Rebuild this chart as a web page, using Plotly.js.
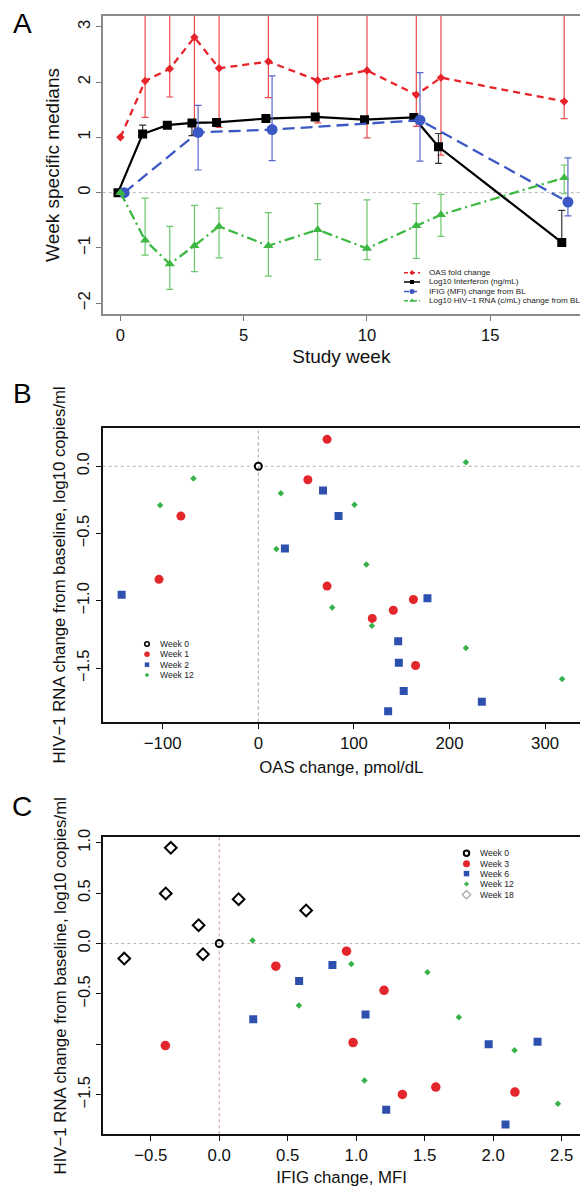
<!DOCTYPE html>
<html><head><meta charset="utf-8">
<script src="https://cdn.plot.ly/plotly-3.0.1.min.js"></script>
<style>html,body{margin:0;padding:0;background:#fff}#chart{width:580px;height:1187px}</style>
</head><body><div id="chart"></div>
<script>
// ---------- Panel A: week specific medians ----------
const weeks      = [0, 1, 2, 3, 4, 6, 8, 10, 12, 13, 18];
const oasMedian  = [1.00, 2.02, 2.24, 2.81, 2.25, 2.37, 2.03, 2.21, 1.77, 2.08, 1.65];
const oasLower   = [1.00, 1.36, 1.73, 1.05, 1.18, 1.72, 1.26, 0.99, 1.20, 0.68, 1.34];
const oasUpper   = [1.00, 3.60, 3.60, 3.60, 3.60, 3.60, 3.60, 3.60, 3.60, 3.60, 3.60];
const ifnMedian  = [0.00, 1.06, 1.22, 1.26, 1.27, 1.34, 1.37, 1.32, 1.36, 0.83, -0.90];
const ifnLower   = [0.00, 1.00, 1.18, 1.03, 1.23, 1.30, 1.33, 1.28, 1.32, 0.53, -0.93];
const ifnUpper   = [0.00, 1.22, 1.27, 1.30, 1.31, 1.38, 1.41, 1.36, 1.40, 1.07, -0.32];
const ifigWeeks  = [0, 3, 6, 12, 18];
const ifigMedian = [0.00, 1.09, 1.14, 1.31, -0.17];
const ifigLower  = [0.00, 0.41, 0.58, 0.57, -0.42];
const ifigUpper  = [0.00, 1.58, 2.11, 2.17, 0.63];
const hivMedian  = [0.00, -0.86, -1.29, -0.96, -0.61, -0.96, -0.67, -1.01, -0.60, -0.40, 0.27];
const hivLower   = [0.00, -1.13, -1.75, -1.43, -1.18, -1.51, -1.21, -1.21, -1.19, -0.79, -0.02];
const hivUpper   = [0.00, -0.10, -0.61, -0.23, -0.28, -0.36, -0.20, -0.13, -0.20, -0.03, 0.50];
const legendA    = ['OAS fold change', 'Log10 Interferon (ng/mL)', 'IFIG (MFI) change from BL', 'Log10 HIV\u22121 RNA (c/mL) change from BL'];

// ---------- Panel B: HIV-1 RNA change vs OAS change ----------
const bWeek0X  = [0];
const bWeek0Y  = [0];
const bWeek1X  = [71.9, 51.8, -81.0, -103.9, 71.9, 162.2, 141.2, 119.2, 164.5];
const bWeek1Y  = [0.20, -0.10, -0.37, -0.84, -0.89, -0.99, -1.07, -1.13, -1.48];
const bWeek2X  = [-143.0, 67.7, 83.9, 27.8, 176.9, 146.3, 147.0, 152.1, 135.8, 233.8];
const bWeek2Y  = [-0.955, -0.18, -0.37, -0.61, -0.98, -1.30, -1.46, -1.67, -1.82, -1.75];
const bWeek12X = [-67.9, -102.7, 23.5, 100.6, 18.9, 113.0, 77.3, 118.8, 217.1, 217.1, 317.8];
const bWeek12Y = [-0.09, -0.29, -0.20, -0.285, -0.615, -0.73, -1.05, -1.185, 0.03, -1.35, -1.58];
const legendB  = ['Week 0', 'Week 1', 'Week 2', 'Week 12'];

// ---------- Panel C: HIV-1 RNA change vs IFIG change ----------
const cWeek0X  = [0];
const cWeek0Y  = [0];
const cWeek3X  = [-0.394, 0.413, 0.929, 1.203, 0.977, 1.337, 1.581, 2.159];
const cWeek3Y  = [-1.013, -0.225, -0.076, -0.464, -0.983, -1.497, -1.424, -1.474];
const cWeek6X  = [0.248, 0.583, 0.826, 1.068, 1.219, 1.967, 2.324, 2.090];
const cWeek6Y  = [-0.752, -0.371, -0.212, -0.705, -1.649, -1.000, -0.974, -1.795];
const cWeek12X = [0.243, 0.964, 0.581, 1.520, 1.749, 2.156, 1.060, 2.473];
const cWeek12Y = [0.030, -0.202, -0.616, -0.285, -0.732, -1.060, -1.358, -1.589];
const cWeek18X = [-0.354, -0.391, -0.151, 0.141, 0.634, -0.119, -0.694];
const cWeek18Y = [0.950, 0.497, 0.182, 0.440, 0.328, -0.106, -0.149];
const legendC  = ['Week 0', 'Week 3', 'Week 6', 'Week 12', 'Week 18'];
const cYTickVals = [-1.5, -1.0, -0.5, 0.0, 0.5, 1.0];
const cYTickText = ['\u22121.5', '', '\u22120.5', '0.0', '0.5', '1.0'];

// ---------- helpers ----------
const W = 580, H = 1187;
const FONT = 'Liberation Sans, Arial, sans-serif';
const px = x => x / W, py = y => 1 - y / H;
const diff = (a, b) => a.map((v, i) => v - b[i]);
const shift = (a, d) => a.map(v => v + d);

const RED = '#e8232a', BLUE = '#3b58c4', GREEN = '#3db843';
const SRED = '#e3262b', SBLUE = '#2d4fae', SGREEN = '#37b24a';

function errY(med, lo, hi, color) {
  return {type: 'data', symmetric: false, array: diff(hi, med), arrayminus: diff(med, lo),
          color: color, thickness: 1.2, width: 3.5};
}

const traces = [];
// Panel A
traces.push({x: weeks, y: oasMedian, xaxis: 'x', yaxis: 'y', mode: 'lines+markers', name: legendA[0],
  line: {color: RED, width: 2.3, dash: '7px,5px'}, marker: {symbol: 'diamond', size: 6.5, color: RED},
  error_y: errY(oasMedian, oasLower, oasUpper, '#ea4b4b'), hoverinfo: 'x+y'});
traces.push({x: shift(weeks, -0.1), y: ifnMedian, xaxis: 'x', yaxis: 'y', mode: 'lines+markers', name: legendA[1],
  line: {color: '#000', width: 2.2}, marker: {symbol: 'square', size: 9, color: '#000'},
  error_y: errY(ifnMedian, ifnLower, ifnUpper, '#333'), hoverinfo: 'x+y'});
traces.push({x: shift(ifigWeeks, 0.15), y: ifigMedian, xaxis: 'x', yaxis: 'y', mode: 'lines+markers', name: legendA[2],
  line: {color: BLUE, width: 2.3, dash: '12px,6px'}, marker: {symbol: 'circle', size: 11, color: BLUE},
  error_y: errY(ifigMedian, ifigLower, ifigUpper, '#5a68cc'), hoverinfo: 'x+y'});
traces.push({x: weeks, y: hivMedian, xaxis: 'x', yaxis: 'y', mode: 'lines+markers', name: legendA[3],
  line: {color: GREEN, width: 2.3, dash: '10px,4px,2px,4px'}, marker: {symbol: 'triangle-up', size: 9, color: GREEN},
  error_y: errY(hivMedian, hivLower, hivUpper, '#6cc66c'), hoverinfo: 'x+y'});

// Panel B
traces.push({x: bWeek0X, y: bWeek0Y, xaxis: 'x2', yaxis: 'y2', mode: 'markers', name: legendB[0],
  marker: {symbol: 'circle-open', size: 7, color: '#000', line: {width: 2}}});
traces.push({x: bWeek1X, y: bWeek1Y, xaxis: 'x2', yaxis: 'y2', mode: 'markers', name: legendB[1],
  marker: {symbol: 'circle', size: 9, color: SRED}});
traces.push({x: bWeek2X, y: bWeek2Y, xaxis: 'x2', yaxis: 'y2', mode: 'markers', name: legendB[2],
  marker: {symbol: 'square', size: 8, color: SBLUE}});
traces.push({x: bWeek12X, y: bWeek12Y, xaxis: 'x2', yaxis: 'y2', mode: 'markers', name: legendB[3],
  marker: {symbol: 'diamond', size: 5, color: SGREEN}});

// Panel C
traces.push({x: cWeek0X, y: cWeek0Y, xaxis: 'x3', yaxis: 'y3', mode: 'markers', name: legendC[0],
  marker: {symbol: 'circle-open', size: 7, color: '#000', line: {width: 2}}});
traces.push({x: cWeek3X, y: cWeek3Y, xaxis: 'x3', yaxis: 'y3', mode: 'markers', name: legendC[1],
  marker: {symbol: 'circle', size: 9.5, color: SRED}});
traces.push({x: cWeek6X, y: cWeek6Y, xaxis: 'x3', yaxis: 'y3', mode: 'markers', name: legendC[2],
  marker: {symbol: 'square', size: 8, color: SBLUE}});
traces.push({x: cWeek12X, y: cWeek12Y, xaxis: 'x3', yaxis: 'y3', mode: 'markers', name: legendC[3],
  marker: {symbol: 'diamond', size: 5, color: SGREEN}});
traces.push({x: cWeek18X, y: cWeek18Y, xaxis: 'x3', yaxis: 'y3', mode: 'markers', name: legendC[4],
  marker: {symbol: 'diamond-open', size: 9, color: '#000', line: {width: 2}}});

traces.forEach(t => { t.showlegend = false; });

// ---------- custom compact legends (pixel overlay axis x4/y4) ----------
const annotations = [];
function legendKey(xs, y, marker, line) {
  if (line) traces.push({x: [xs - 8, xs + 8], y: [y, y], xaxis: 'x4', yaxis: 'y4', mode: 'lines',
    line: line, showlegend: false, hoverinfo: 'skip'});
  traces.push({x: [xs], y: [y], xaxis: 'x4', yaxis: 'y4', mode: 'markers', marker: marker,
    showlegend: false, hoverinfo: 'skip'});
}
function legendText(x, y, text, size) {
  annotations.push({xref: 'paper', yref: 'paper', x: px(x), y: py(y), text: text, showarrow: false,
    xanchor: 'left', yanchor: 'middle', font: {family: FONT, size: size, color: '#222'}});
}
// A legend
const aRows = [272.7, 282.0, 291.5, 300.7];
legendKey(412, aRows[0], {symbol: 'diamond', size: 4, color: RED}, {color: RED, width: 1.5, dash: '4px,3px'});
legendKey(412, aRows[1], {symbol: 'square', size: 4, color: '#000'}, {color: '#000', width: 1.5});
legendKey(412, aRows[2], {symbol: 'circle', size: 5, color: BLUE}, {color: BLUE, width: 1.5, dash: '5px,3px'});
legendKey(412, aRows[3], {symbol: 'triangle-up', size: 4.5, color: GREEN}, {color: GREEN, width: 1.5, dash: '4px,2px,1px,2px'});
legendA.forEach((t, i) => legendText(426.5, aRows[i], t, 8.1));
// B legend
const bRows = [644.0, 654.3, 664.7, 675.0];
legendKey(147, bRows[0], {symbol: 'circle-open', size: 4.5, color: '#000', line: {width: 1.6}});
legendKey(147, bRows[1], {symbol: 'circle', size: 5.5, color: SRED});
legendKey(147, bRows[2], {symbol: 'square', size: 4.5, color: SBLUE});
legendKey(147, bRows[3], {symbol: 'diamond', size: 3.5, color: SGREEN});
legendB.forEach((t, i) => legendText(157.5, bRows[i], t, 8.6));
// C legend
const cRows = [853.3, 863.7, 873.6, 884.0, 894.7];
legendKey(466.5, cRows[0], {symbol: 'circle-open', size: 5.5, color: '#000', line: {width: 2}});
legendKey(466.5, cRows[1], {symbol: 'circle', size: 7, color: SRED});
legendKey(466.5, cRows[2], {symbol: 'square', size: 5.5, color: SBLUE});
legendKey(466.5, cRows[3], {symbol: 'diamond', size: 4, color: SGREEN});
legendKey(466.5, cRows[4], {symbol: 'diamond-open', size: 6.5, color: '#aaa', line: {width: 1.3}});
legendC.forEach((t, i) => legendText(478, cRows[i], t, 8.6));

// panel letters
[['A', 22.5, 23.3], ['B', 22.5, 393], ['C', 22, 806]].forEach(([t, x, y]) =>
  annotations.push({xref: 'paper', yref: 'paper', x: px(x), y: py(y), text: t, showarrow: false,
    xanchor: 'center', yanchor: 'middle', font: {family: FONT, size: 28, color: '#000'}}));

// ---------- axes ----------
const left = px(102.7);
function axisBase(lineColor, lineWidth, tickColor, size) {
  return {showline: true, mirror: true, linecolor: lineColor, linewidth: lineWidth, ticks: 'outside',
    ticklen: 5, tickwidth: 1, tickcolor: tickColor, showgrid: false, zeroline: false, automargin: false,
    tickfont: {family: FONT, size: size, color: '#111'}, fixedrange: true};
}
const layout = {
  width: W, height: H, margin: {l: 0, r: 0, t: 0, b: 0},
  paper_bgcolor: '#fff', plot_bgcolor: 'rgba(0,0,0,0)', showlegend: false, font: {family: FONT},
  xaxis: Object.assign(axisBase('#8a8a8a', 1.3, '#777', 16.6), {domain: [left, 1], range: [-0.72, 18.64],
    anchor: 'y', tick0: 0, dtick: 5, title: {text: 'Study week', font: {family: FONT, size: 19, color: '#111'}, standoff: 6}}),
  yaxis: Object.assign(axisBase('#8a8a8a', 1.3, '#777', 16.6), {domain: [py(314.3), py(15.7)], range: [-2.2, 3.2],
    anchor: 'x', tick0: 0, dtick: 1, tickangle: -90,
    title: {text: 'Week specific medians', font: {family: FONT, size: 19, color: '#111'}, standoff: 10}}),
  xaxis2: Object.assign(axisBase('#111', 2, '#111', 16.8), {domain: [left, 1], range: [-162.8, 336.5],
    anchor: 'y2', tick0: 0, dtick: 100, title: {text: 'OAS change, pmol/dL', font: {family: FONT, size: 16.8, color: '#111'}, standoff: 10}}),
  yaxis2: Object.assign(axisBase('#111', 2, '#111', 16.4), {domain: [py(721.5), py(428.3)], range: [-1.896, 0.282],
    anchor: 'x2', tick0: 0, dtick: 0.5, tickformat: '.1f', tickangle: -90,
    title: {text: 'HIV\u22121 RNA change from baseline, log10 copies/ml', font: {family: FONT, size: 16.8, color: '#111'}, standoff: 4}}),
  xaxis3: Object.assign(axisBase('#111', 2, '#111', 16.8), {domain: [px(103.3), 1], range: [-0.847, 2.634],
    anchor: 'y3', tick0: 0, dtick: 0.5, tickformat: '.1f', title: {text: 'IFIG change, MFI', font: {family: FONT, size: 16.8, color: '#111'}, standoff: 12}}),
  yaxis3: Object.assign(axisBase('#111', 2, '#111', 16.4), {domain: [py(1134.3), py(837.3)], range: [-1.893, 1.054],
    anchor: 'x3', tickmode: 'array', tickvals: cYTickVals, ticktext: cYTickText, tickangle: -90,
    title: {text: 'HIV\u22121 RNA change from baseline, log10 copies/ml', font: {family: FONT, size: 16.8, color: '#111'}, standoff: 4}}),
  xaxis4: {domain: [0, 1], range: [0, W], visible: false, fixedrange: true, anchor: 'y4'},
  yaxis4: {domain: [0, 1], range: [H, 0], visible: false, fixedrange: true, anchor: 'x4'},
  annotations: annotations,
  shapes: [
    {type: 'line', xref: 'x domain', yref: 'y', x0: 0, x1: 1, y0: 0, y1: 0, line: {color: '#b5b5b5', width: 1, dash: 'dot'}, layer: 'below'},
    {type: 'line', xref: 'x2 domain', yref: 'y2', x0: 0, x1: 1, y0: 0, y1: 0, line: {color: '#b0b0b0', width: 1.2, dash: 'dot'}, layer: 'below'},
    {type: 'line', xref: 'x2', yref: 'y2 domain', x0: 0, x1: 0, y0: 0, y1: 1, line: {color: '#b0b0b0', width: 1.2, dash: 'dot'}, layer: 'below'},
    {type: 'line', xref: 'x3 domain', yref: 'y3', x0: 0, x1: 1, y0: 0, y1: 0, line: {color: '#c4b0b0', width: 1.2, dash: 'dot'}, layer: 'below'},
    {type: 'line', xref: 'x3', yref: 'y3 domain', x0: 0, x1: 0, y0: 0, y1: 1, line: {color: '#d0a8ac', width: 1.2, dash: 'dot'}, layer: 'below'}
  ]
};
Plotly.newPlot('chart', traces, layout, {staticPlot: true, displayModeBar: false});
</script>
</body></html>
